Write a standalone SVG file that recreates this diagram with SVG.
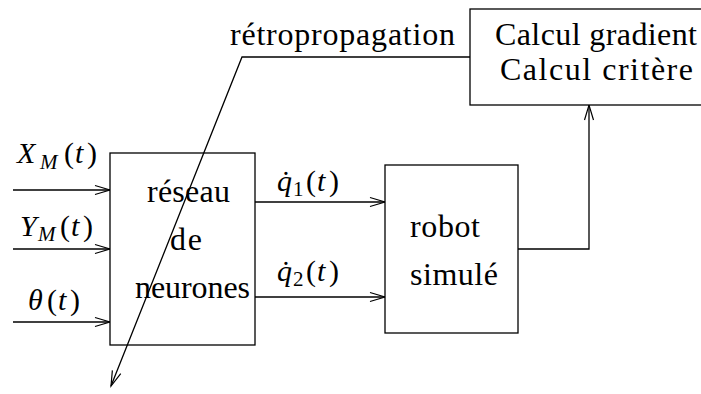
<svg xmlns="http://www.w3.org/2000/svg" width="701" height="394" viewBox="0 0 701 394">
<style>
.ln{fill:none;stroke:#000;stroke-width:1.3}
.bx{fill:#fff;stroke:#000;stroke-width:1.3}
text{font-family:"Liberation Serif","Times New Roman",serif;font-size:32px;fill:#000}
.m{font-size:30px}
.it{font-style:italic}
.sub{font-size:21px}
</style>
<defs>
<marker id="ah" markerUnits="userSpaceOnUse" markerWidth="20" markerHeight="12" viewBox="-1 -6 18 12" refX="15" refY="0" orient="auto">
<path d="M0,-4.5 L15,0 L0,4.5" fill="none" stroke="#000" stroke-width="1.2"/>
</marker>
</defs>
<g id="connectors">
<line class="ln" x1="13" y1="190" x2="110" y2="190" marker-end="url(#ah)"/>
<line class="ln" x1="13" y1="249" x2="110" y2="249" marker-end="url(#ah)"/>
<line class="ln" x1="13" y1="322" x2="110" y2="322" marker-end="url(#ah)"/>
<line class="ln" x1="255" y1="202" x2="385" y2="202" marker-end="url(#ah)"/>
<line class="ln" x1="255" y1="297" x2="385" y2="297" marker-end="url(#ah)"/>
<polyline class="ln" points="518,249 589,249 589,105" marker-end="url(#ah)"/>
</g>
<g id="reseau">
<rect class="bx" x="110" y="153" width="145" height="192"/>
<text x="147" y="202" textLength="83" lengthAdjust="spacing">réseau</text>
<text x="170" y="250" textLength="32" lengthAdjust="spacing">de</text>
<text x="135" y="298" textLength="115" lengthAdjust="spacing">neurones</text>
</g>
<g id="robot">
<rect class="bx" x="385" y="165" width="133" height="168"/>
<text x="410" y="237" textLength="70" lengthAdjust="spacing">robot</text>
<text x="410" y="285" textLength="88" lengthAdjust="spacing">simulé</text>
</g>
<g id="calcul">
<rect class="bx" x="470" y="9" width="240" height="96"/>
<text x="495" y="45" textLength="202" lengthAdjust="spacing">Calcul gradient</text>
<text x="500" y="80" textLength="193" lengthAdjust="spacing">Calcul critère</text>
</g>
<g id="retro">
<polyline class="ln" points="470,57 242,57 111,386" marker-end="url(#ah)"/>
<text x="230" y="45" textLength="225" lengthAdjust="spacing">rétropropagation</text>
</g>
<g id="labels">
<text class="m" y="163"><tspan class="it" x="17">X</tspan><tspan class="sub it" x="40" dy="6">M</tspan><tspan x="64" dy="-6">(</tspan><tspan class="it" x="75">t</tspan><tspan x="87">)</tspan></text>
<text class="m" y="236"><tspan class="it" x="20">Y</tspan><tspan class="sub it" x="38" dy="5">M</tspan><tspan x="60" dy="-5">(</tspan><tspan class="it" x="71">t</tspan><tspan x="83">)</tspan></text>
<text class="m" y="310"><tspan class="it" x="28">θ</tspan><tspan x="47">(</tspan><tspan class="it" x="58">t</tspan><tspan x="70">)</tspan></text>
<text class="m" y="191"><tspan class="it" x="277">q̇</tspan><tspan class="sub" x="293" dy="5">1</tspan><tspan x="306" dy="-5">(</tspan><tspan class="it" x="317">t</tspan><tspan x="329">)</tspan></text>
<text class="m" y="281"><tspan class="it" x="277">q̇</tspan><tspan class="sub" x="293" dy="5">2</tspan><tspan x="306" dy="-5">(</tspan><tspan class="it" x="317">t</tspan><tspan x="329">)</tspan></text>
</g>
</svg>
